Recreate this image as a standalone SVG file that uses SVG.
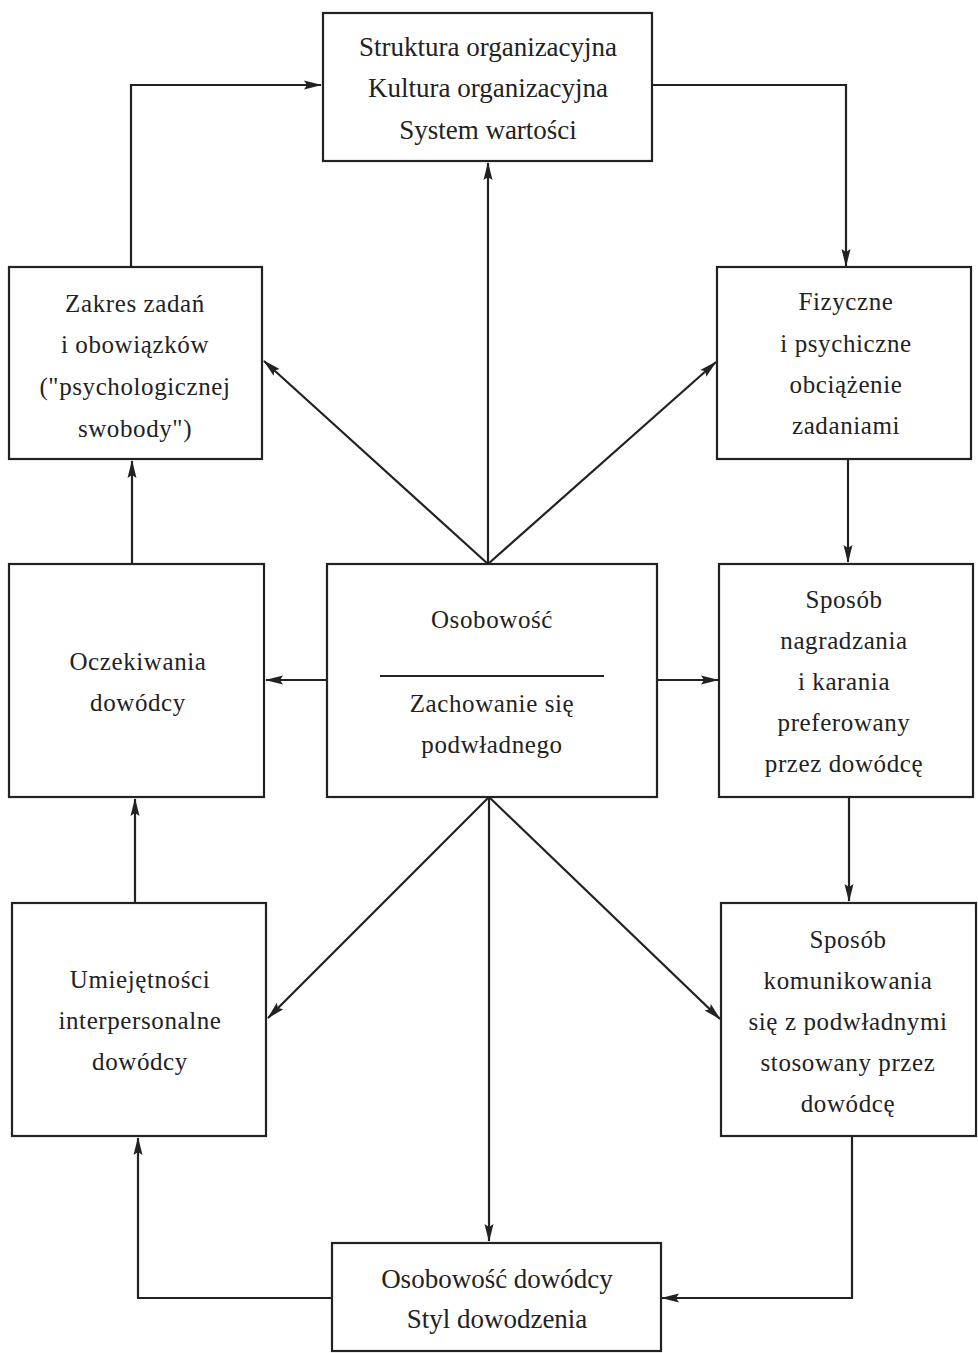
<svg xmlns="http://www.w3.org/2000/svg" width="978" height="1353" viewBox="0 0 978 1353">
<style>
.box{fill:none;stroke:#222;stroke-width:2.2}
.t{font-family:"Liberation Serif","Times New Roman",serif;font-size:25px;fill:#222;text-anchor:middle;letter-spacing:0.6px}
.tc{font-family:"Liberation Serif","Times New Roman",serif;font-size:27px;fill:#222;text-anchor:middle}
.c{fill:none;stroke:#222;stroke-width:2.2}
</style>
<defs>
<marker id="ah" markerWidth="18" markerHeight="12" refX="17" refY="6" orient="auto" markerUnits="userSpaceOnUse">
<path d="M0,1.5 L18,6 L0,10.5 L3,6 Z" fill="#222"/>
</marker>
</defs>
<rect width="978" height="1353" fill="#fff"/>
<g id="connectors">
<path class="c" d="M131,268 V85 H321" marker-end="url(#ah)"/>
<path class="c" d="M652,85 H846 V266" marker-end="url(#ah)"/>
<path class="c" d="M848,459 V562" marker-end="url(#ah)"/>
<path class="c" d="M849,797 V901" marker-end="url(#ah)"/>
<path class="c" d="M852,1136 V1298 H662" marker-end="url(#ah)"/>
<path class="c" d="M332,1298 H138 V1138" marker-end="url(#ah)"/>
<path class="c" d="M135,903 V799" marker-end="url(#ah)"/>
<path class="c" d="M132,564 V461" marker-end="url(#ah)"/>
<path class="c" d="M488,564 V163" marker-end="url(#ah)"/>
<path class="c" d="M488,564 L264,361" marker-end="url(#ah)"/>
<path class="c" d="M488,564 L716,362" marker-end="url(#ah)"/>
<path class="c" d="M327,680 H266" marker-end="url(#ah)"/>
<path class="c" d="M657,680 H718" marker-end="url(#ah)"/>
<path class="c" d="M489,797 V1241" marker-end="url(#ah)"/>
<path class="c" d="M489,797 L268,1018" marker-end="url(#ah)"/>
<path class="c" d="M489,797 L720,1019" marker-end="url(#ah)"/>
</g>
<g id="n-top">
<rect class="box" x="323" y="13" width="329" height="148"/>
<text class="tc" x="488" y="56">Struktura organizacyjna</text>
<text class="tc" x="488" y="97">Kultura organizacyjna</text>
<text class="tc" x="488" y="139">System wartości</text>
</g>
<g id="n-zakres">
<rect class="box" x="9" y="267" width="253" height="192"/>
<text class="t" x="135" y="312">Zakres zadań</text>
<text class="t" x="135" y="353">i obowiązków</text>
<text class="t" x="135" y="395">("psychologicznej</text>
<text class="t" x="135" y="437">swobody")</text>
</g>
<g id="n-fizyczne">
<rect class="box" x="717" y="267" width="254" height="192"/>
<text class="t" x="846" y="310">Fizyczne</text>
<text class="t" x="846" y="352">i psychiczne</text>
<text class="t" x="846" y="393">obciążenie</text>
<text class="t" x="846" y="434">zadaniami</text>
</g>
<g id="n-oczekiwania">
<rect class="box" x="9" y="564" width="255" height="233"/>
<text class="t" x="138" y="670">Oczekiwania</text>
<text class="t" x="138" y="711">dowódcy</text>
</g>
<g id="n-osobowosc">
<rect class="box" x="327" y="564" width="330" height="233"/>
<text class="t" x="492" y="628">Osobowość</text>
<line x1="380" y1="676" x2="604" y2="676" stroke="#222" stroke-width="2"/>
<text class="t" x="492" y="712">Zachowanie się</text>
<text class="t" x="492" y="753">podwładnego</text>
</g>
<g id="n-nagradzanie">
<rect class="box" x="719" y="564" width="254" height="233"/>
<text class="t" x="844" y="608">Sposób</text>
<text class="t" x="844" y="649">nagradzania</text>
<text class="t" x="844" y="690">i karania</text>
<text class="t" x="844" y="731">preferowany</text>
<text class="t" x="844" y="772">przez dowódcę</text>
</g>
<g id="n-umiejetnosci">
<rect class="box" x="12" y="903" width="254" height="233"/>
<text class="t" x="140" y="988">Umiejętności</text>
<text class="t" x="140" y="1029">interpersonalne</text>
<text class="t" x="140" y="1070">dowódcy</text>
</g>
<g id="n-komunikowanie">
<rect class="box" x="721" y="903" width="255" height="233"/>
<text class="t" x="848" y="948">Sposób</text>
<text class="t" x="848" y="989">komunikowania</text>
<text class="t" x="848" y="1030">się z podwładnymi</text>
<text class="t" x="848" y="1071">stosowany przez</text>
<text class="t" x="848" y="1112">dowódcę</text>
</g>
<g id="n-dowodca">
<rect class="box" x="332" y="1243" width="329" height="108"/>
<text class="tc" x="497" y="1288">Osobowość dowódcy</text>
<text class="tc" x="497" y="1328">Styl dowodzenia</text>
</g>
</svg>
